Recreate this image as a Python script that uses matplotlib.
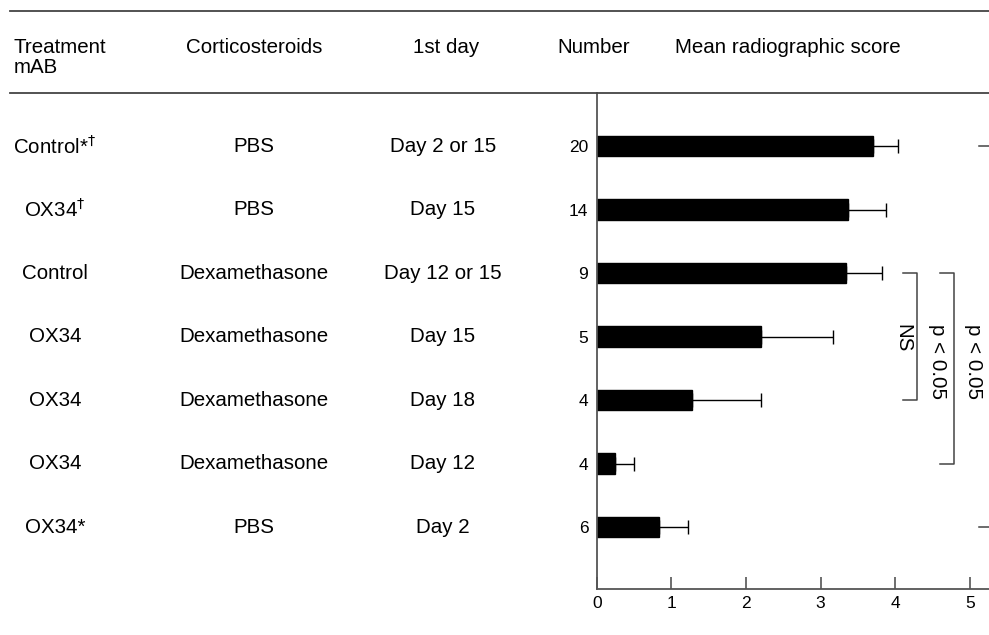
import matplotlib.pyplot as plt
from matplotlib.transforms import blended_transform_factory

plt.rcParams['font.family'] = ['Liberation Sans', 'DejaVu Sans']

# table columns (one row per group)
treatment = [r'Control*$^{\dagger}$', r'OX34$^{\dagger}$', 'Control', 'OX34', 'OX34', 'OX34', 'OX34*']
steroid = ['PBS', 'PBS', 'Dexamethasone', 'Dexamethasone', 'Dexamethasone', 'Dexamethasone', 'PBS']
first_day = ['Day 2 or 15', 'Day 15', 'Day 12 or 15', 'Day 15', 'Day 18', 'Day 12', 'Day 2']
number = [20, 14, 9, 5, 4, 4, 6]

# bar values and one-sided error
mean_score = [3.70, 3.36, 3.34, 2.20, 1.27, 0.25, 0.83]
upper_err = [0.34, 0.51, 0.48, 0.97, 0.93, 0.25, 0.39]

# significance brackets: first row, last row, label
bracket_rows = [(2, 4), (2, 5), (0, 6)]
bracket_labels = ['NS', 'p < 0.05', 'p < 0.05']
bracket_x = [4.29, 4.79, 5.31]
label_x = [4.10, 4.57, 5.05]
label_row = [3.02, 3.39, 3.39]

headers = ['Corticosteroids', '1st day', 'Number', 'Mean radiographic score']

fs = 14.8
fig = plt.figure(figsize=(9.89, 6.35), dpi=100)
W, H = 989, 635

ax = fig.add_axes([596.7 / W, 45.7 / H, 392.3 / W, 496.3 / H])
rows = list(range(len(mean_score)))
ax.barh(rows, mean_score, height=0.32, color='black', edgecolor='black')
ax.errorbar(mean_score, rows, xerr=[[0] * len(rows), upper_err], fmt='none',
            ecolor='black', elinewidth=1, capsize=5, capthick=1)

ax.set_xlim(0, 5.255)
ax.set_ylim(6.98, -0.835)
ax.set_xticks(range(6))
ax.set_yticks(rows)
ax.set_yticklabels([str(n) for n in number], fontsize=12.5)
ax.tick_params(axis='y', length=0, pad=6)
ax.tick_params(axis='x', direction='in', length=9, width=1.2, color='#555555',
               labelsize=12.5, pad=5)
for side in ['top', 'right']:
    ax.spines[side].set_visible(False)
for side in ['left', 'bottom']:
    ax.spines[side].set_color('#555555')
    ax.spines[side].set_linewidth(1.3)

# brackets
for (r0, r1), bx, lab, lx, ly in zip(bracket_rows, bracket_x, bracket_labels, label_x, label_row):
    ax.plot([bx - 0.19, bx, bx, bx - 0.19], [r0, r0, r1, r1], color='#444444',
            lw=1.1, clip_on=False)
    ax.text(lx, ly, lab, rotation=-90, ha='center', va='center', fontsize=fs)

# table text at left, rows aligned with bars
tr = blended_transform_factory(fig.transFigure, ax.transData)
for i in rows:
    fig.text(55 / W, i, treatment[i], transform=tr, ha='center', va='center', fontsize=fs)
    fig.text(254 / W, i, steroid[i], transform=tr, ha='center', va='center', fontsize=fs)
    fig.text(443 / W, i, first_day[i], transform=tr, ha='center', va='center', fontsize=fs)

# header
fig.text(14 / W, 1 - 53 / H, 'Treatment', ha='left', va='baseline', fontsize=fs)
fig.text(14 / W, 1 - 73 / H, 'mAB', ha='left', va='baseline', fontsize=fs)
fig.text(254 / W, 1 - 53 / H, headers[0], ha='center', va='baseline', fontsize=fs)
fig.text(446 / W, 1 - 53 / H, headers[1], ha='center', va='baseline', fontsize=fs)
fig.text(594 / W, 1 - 53 / H, headers[2], ha='center', va='baseline', fontsize=fs)
fig.text(675 / W, 1 - 53 / H, headers[3], ha='left', va='baseline', fontsize=fs)

for y in [11, 93]:
    fig.add_artist(plt.Line2D([10 / W, 1], [1 - y / H, 1 - y / H], color='#444444', lw=1.3))

fig.savefig('out.png', dpi=100)
